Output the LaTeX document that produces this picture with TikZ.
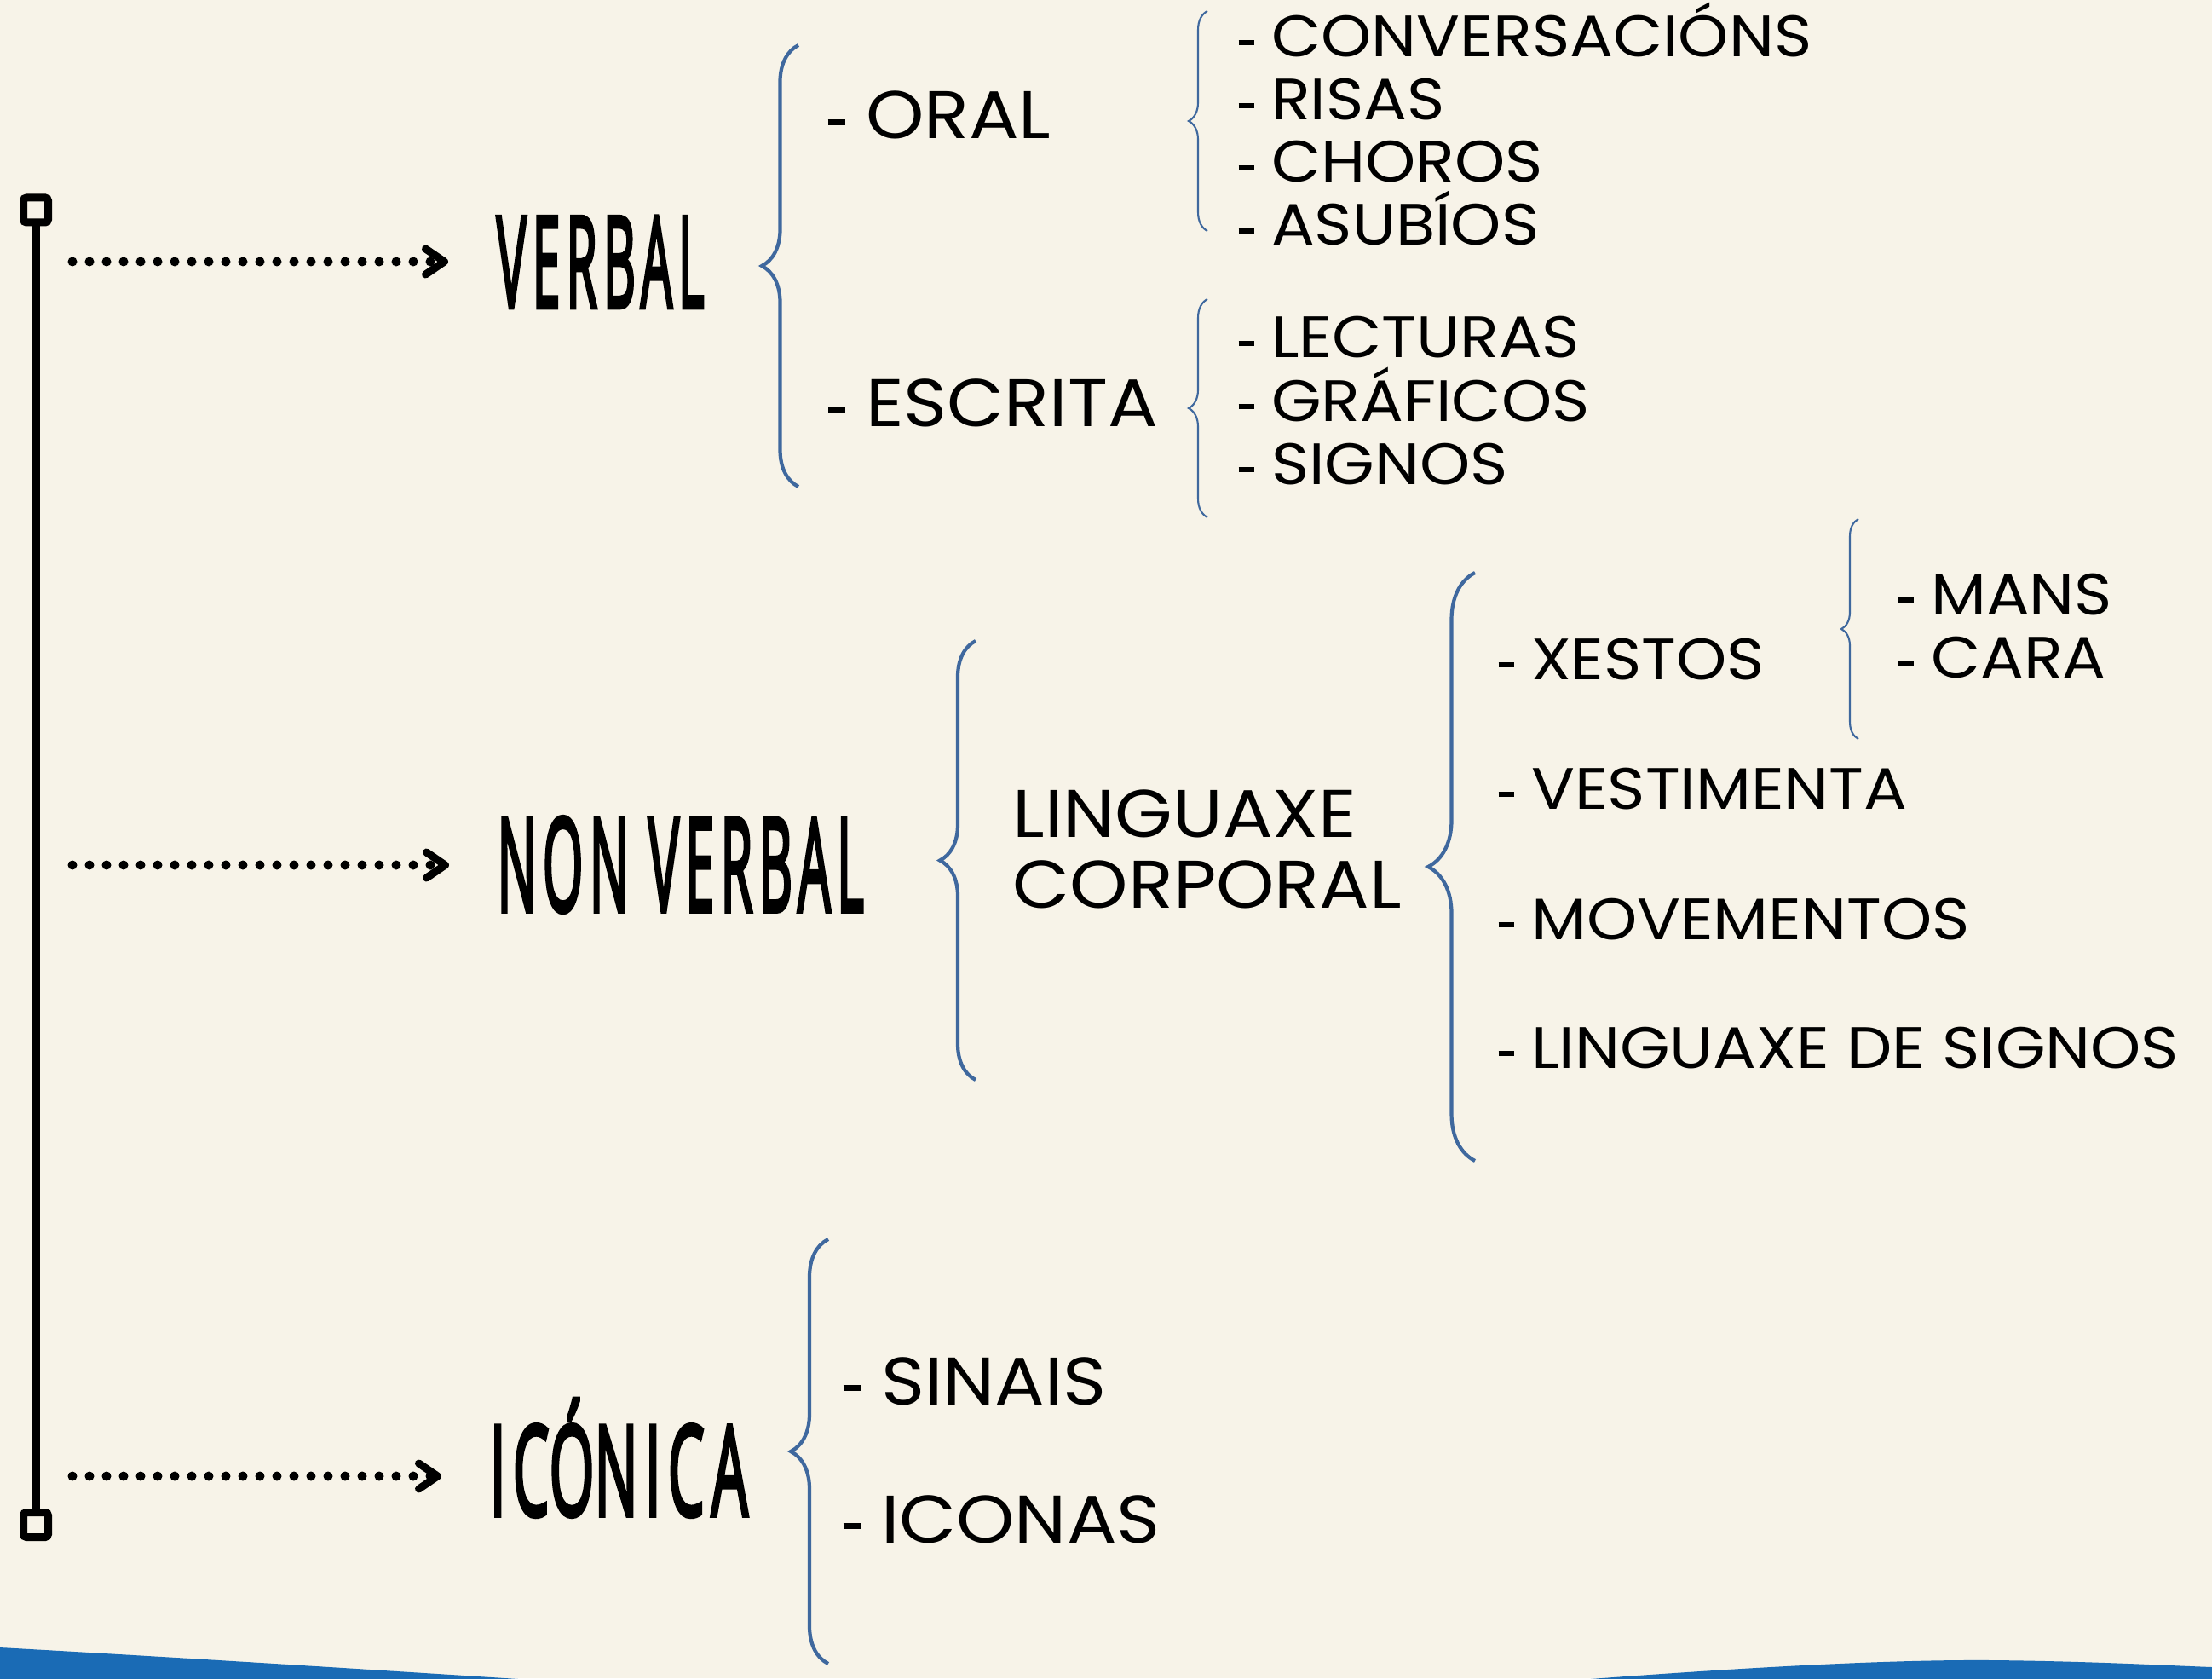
\documentclass[tikz,border=0pt]{standalone}
\usepackage{fontspec}
\usepackage{graphicx}
\setmainfont{Poppins}[FakeStretch=1.1]
\newfontfamily\titlefont{Open Sans}[FakeBold=4, LetterSpace=12]
\definecolor{cream}{RGB}{247,243,232}
\definecolor{braceblue}{RGB}{63,104,158}
\definecolor{waveblue}{RGB}{26,107,181}
\usetikzlibrary{arrows.meta, decorations.pathreplacing, positioning}
\newcommand\dsh{\rule[0.2em]{0.26em}{0.085em}\hspace{0.3em}}

\begin{document}
\begin{tikzpicture}[
    endsq/.style={draw, rectangle, rounded corners=1pt, line width=0.09cm,
                  minimum size=0.29cm, inner sep=0pt},
    timeline/.style={line width=0.09cm},
    dotarrow/.style={line width=0.11cm, line cap=round, dash pattern=on 0pt off 0.2cm,
                     -{Straight Barb[length=0.22cm, width=0.3cm, line width=0.09cm, round]},
                     shorten <=0.43cm, shorten >=0.56cm},
    title/.style={anchor=south west, inner sep=0pt},
    lvltwo/.style={anchor=base west, inner sep=0pt, font=\fontsize{22.5}{24}\selectfont},
    lvlthree/.style={anchor=base west, inner sep=0pt, font=\fontsize{19.5}{21}\selectfont},
    bigbrace/.style={draw=braceblue, line width=1.2pt, decorate,
                     decoration={brace, amplitude=#1}},
    bigbrace/.default=0.43cm,
    smallbrace/.style={draw=braceblue, line width=0.6pt, decorate,
                       decoration={brace, amplitude=#1}},
    smallbrace/.default=0.22cm
  ]
  % background and frame
  \fill[cream] (0,0) rectangle (25.96,-19.69);
  \useasboundingbox (0,0) rectangle (25.96,-19.69);
  \fill[waveblue] (0,-19.33) .. controls (2.5,-19.47) and (4.5,-19.6) .. (6.4,-19.72)
        -- (0,-19.72) -- cycle;
  \fill[waveblue] (18.4,-19.72) .. controls (20.5,-19.56) and (22.2,-19.47) .. (23.38,-19.48)
        .. controls (24.5,-19.49) and (25.4,-19.54) .. (25.96,-19.56) -- (25.96,-19.72) -- cycle;

  % timeline
  \node[endsq] (top) at (0.42,-2.465) {};
  \node[endsq] (bot) at (0.42,-17.89) {};
  \draw[timeline] (top) -- (bot);
  \coordinate (t1) at (0.42,-3.07);
  \coordinate (t2) at (0.42,-10.15);
  \coordinate (t3) at (0.42,-17.32);

  % main kinds
  \node[title] (verbal) at (5.82,-3.61)
        {\resizebox{2.44cm}{1.06cm}{\titlefont VERBAL}};
  \node[title] (nonverbal) at (5.83,-10.71)
        {\resizebox{4.30cm}{1.10cm}{\titlefont NON VERBAL}};
  \node[title] (iconica) at (5.74,-17.80)
        {\resizebox{3.03cm}{1.06cm}{\titlefont IC\smash{Ó}NICA}};
  \draw[dotarrow] (t1) -- (t1 -| verbal.west);
  \draw[dotarrow] (t2) -- (t2 -| nonverbal.west);
  \draw[dotarrow] (t3) -- (t3 -| iconica.west);

  % verbal
  \draw[bigbrace] (9.37,-5.71) -- (9.37,-0.53);
  \node[lvltwo] (oral) at (9.71,-1.63) {\dsh ORAL};
  \node[lvltwo] (escrita) at (9.71,-5.00) {\dsh ESCRITA};

  \draw[smallbrace] (14.17,-2.71) -- (14.17,-0.13);
  \node[lvlthree] (conv) at (14.53,-0.67) {\dsh CONVERSACIÓNS};
  \node[lvlthree] (risas) at ([yshift=-0.735cm]conv.base west) {\dsh RISAS};
  \node[lvlthree] (choros) at ([yshift=-0.735cm]risas.base west) {\dsh CHOROS};
  \node[lvlthree] (asubios) at ([yshift=-0.735cm]choros.base west) {\dsh ASUBÍOS};

  \draw[smallbrace] (14.17,-6.07) -- (14.17,-3.51);
  \node[lvlthree] (lect) at (14.53,-4.20) {\dsh LECTURAS};
  \node[lvlthree] (graf) at ([yshift=-0.74cm]lect.base west) {\dsh GRÁFICOS};
  \node[lvlthree] (sign) at ([yshift=-0.74cm]graf.base west) {\dsh SIGNOS};

  % non verbal
  \draw[bigbrace=0.42cm] (11.45,-12.67) -- (11.45,-7.52);
  \node[lvltwo] (ling) at (11.88,-9.82) {LINGUAXE};
  \node[lvltwo] (corp) at ([yshift=-0.83cm]ling.base west) {CORPORAL};

  \draw[bigbrace=0.55cm] (17.31,-13.62) -- (17.31,-6.72);
  \node[lvlthree] (xestos) at (17.58,-7.97) {\dsh XESTOS};
  \node[lvlthree] (vest) at ([yshift=-1.52cm]xestos.base west) {\dsh VESTIMENTA};
  \node[lvlthree] (movem) at ([yshift=-1.53cm]vest.base west) {\dsh MOVEMENTOS};
  \node[lvlthree] (lsignos) at ([yshift=-1.51cm]movem.base west) {\dsh LINGUAXE DE SIGNOS};

  \draw[smallbrace=0.2cm] (21.81,-8.67) -- (21.81,-6.09);
  \node[lvlthree] (mans) at (22.27,-7.21) {\dsh MANS};
  \node[lvlthree] (cara) at ([yshift=-0.74cm]mans.base west) {\dsh CARA};

  % iconica
  \draw[bigbrace=0.44cm] (9.72,-19.52) -- (9.72,-14.54);
  \node[lvltwo] (sinais) at (9.89,-16.48) {\dsh SINAIS};
  \node[lvltwo] (iconas) at (9.89,-18.10) {\dsh ICONAS};
\end{tikzpicture}
\end{document}
